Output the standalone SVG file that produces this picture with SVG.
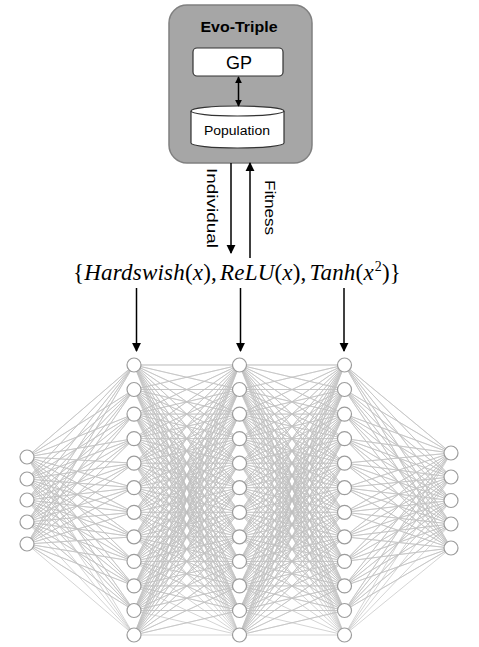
<svg xmlns="http://www.w3.org/2000/svg" width="479" height="647" viewBox="0 0 479 647">
<style>
.sans{font-family:"Liberation Sans","DejaVu Sans",sans-serif;fill:#000}
.math{font-family:"Liberation Serif","DejaVu Serif",serif;font-size:23px;fill:#000;letter-spacing:0.2px}
.i{font-style:italic}
.nn{fill:#fff;stroke:#9c9c9c;stroke-width:1.2}
.edge{fill:none;stroke:#c2c2c2;stroke-width:0.7}
.arr{stroke:#000;stroke-width:1.5;fill:none}
</style>
<defs>
<marker id="ah" viewBox="0 0 10 10" refX="9" refY="5" markerWidth="9" markerHeight="10" markerUnits="userSpaceOnUse" orient="auto-start-reverse"><path d="M0,0L10,5L0,10z" fill="#000"/></marker>
<marker id="ahs" viewBox="0 0 10 10" refX="9" refY="5" markerWidth="7" markerHeight="8" markerUnits="userSpaceOnUse" orient="auto-start-reverse"><path d="M0,0L10,5L0,10z" fill="#000"/></marker>
</defs>
<rect width="479" height="647" fill="#fff"/>

<g id="evo-triple">
<rect x="169" y="5" width="143" height="158" rx="18" fill="#a6a6a6" stroke="#808080" stroke-width="1.5"/>
<text class="sans" x="239" y="32" font-size="15" font-weight="bold" text-anchor="middle" textLength="77" lengthAdjust="spacingAndGlyphs">Evo-Triple</text>
</g>
<g id="gp">
<rect x="193" y="48" width="90" height="28" rx="4" fill="#fff" stroke="#333" stroke-width="1.2"/>
<text class="sans" x="239" y="68.5" font-size="18" text-anchor="middle">GP</text>
</g>
<g id="population">
<path d="M191 111A46.5 5 0 0 1 284 111V143A46.5 5 0 0 1 191 143Z" fill="#fff" stroke="#333" stroke-width="1.2"/>
<path d="M191 111A46.5 5 0 0 0 284 111" fill="none" stroke="#333" stroke-width="1.2"/>
<text class="sans" x="237" y="134.5" font-size="12.5" text-anchor="middle" textLength="66" lengthAdjust="spacingAndGlyphs">Population</text>
</g>

<g id="labels">
<text class="sans" font-size="15" transform="translate(207,168) rotate(90)" textLength="80" lengthAdjust="spacingAndGlyphs">Individual</text>
<text class="sans" font-size="15" transform="translate(265,180) rotate(90)" textLength="55" lengthAdjust="spacingAndGlyphs">Fitness</text>
<text class="math" x="73" y="280">{<tspan class="i">Hardswish</tspan>(<tspan class="i">x</tspan>),<tspan class="i" dx="3">ReLU</tspan>(<tspan class="i">x</tspan>),<tspan class="i" dx="3">Tanh</tspan>(<tspan class="i">x</tspan><tspan font-size="14" dy="-9" dx="1">2</tspan><tspan dy="9">)}</tspan></text>
</g>

<g id="connectors">
<line class="arr" x1="238.5" y1="77" x2="238.5" y2="106" marker-start="url(#ahs)" marker-end="url(#ahs)"/>
<line class="arr" x1="231" y1="163" x2="231" y2="253" marker-end="url(#ah)"/>
<line class="arr" x1="250" y1="258" x2="250" y2="163" marker-end="url(#ah)"/>
<line class="arr" x1="136.5" y1="288" x2="136.5" y2="351" marker-end="url(#ah)"/>
<line class="arr" x1="240.5" y1="288" x2="240.5" y2="351" marker-end="url(#ah)"/>
<line class="arr" x1="344" y1="288" x2="344" y2="351" marker-end="url(#ah)"/>

<g class="edge">
<path d="M27 457L134 365 27 457 134 389.5 27 457 134 414.1 27 457 134 438.6 27 457 134 463.2 27 457 134 487.7 27 457 134 512.3 27 457 134 536.8 27 457 134 561.4 27 457 134 585.9 27 457 134 610.5 27 457 134 635"/>
<path d="M27 479L134 365 27 479 134 389.5 27 479 134 414.1 27 479 134 438.6 27 479 134 463.2 27 479 134 487.7 27 479 134 512.3 27 479 134 536.8 27 479 134 561.4 27 479 134 585.9 27 479 134 610.5 27 479 134 635"/>
<path d="M27 500L134 365 27 500 134 389.5 27 500 134 414.1 27 500 134 438.6 27 500 134 463.2 27 500 134 487.7 27 500 134 512.3 27 500 134 536.8 27 500 134 561.4 27 500 134 585.9 27 500 134 610.5 27 500 134 635"/>
<path d="M27 522L134 365 27 522 134 389.5 27 522 134 414.1 27 522 134 438.6 27 522 134 463.2 27 522 134 487.7 27 522 134 512.3 27 522 134 536.8 27 522 134 561.4 27 522 134 585.9 27 522 134 610.5 27 522 134 635"/>
<path d="M27 544L134 365 27 544 134 389.5 27 544 134 414.1 27 544 134 438.6 27 544 134 463.2 27 544 134 487.7 27 544 134 512.3 27 544 134 536.8 27 544 134 561.4 27 544 134 585.9 27 544 134 610.5 27 544 134 635"/>

<path d="M134 365L239.5 365 134 365 239.5 389.5 134 365 239.5 414.1 134 365 239.5 438.6 134 365 239.5 463.2 134 365 239.5 487.7 134 365 239.5 512.3 134 365 239.5 536.8 134 365 239.5 561.4 134 365 239.5 585.9 134 365 239.5 610.5 134 365 239.5 635"/>
<path d="M134 389.5L239.5 365 134 389.5 239.5 389.5 134 389.5 239.5 414.1 134 389.5 239.5 438.6 134 389.5 239.5 463.2 134 389.5 239.5 487.7 134 389.5 239.5 512.3 134 389.5 239.5 536.8 134 389.5 239.5 561.4 134 389.5 239.5 585.9 134 389.5 239.5 610.5 134 389.5 239.5 635"/>
<path d="M134 414.1L239.5 365 134 414.1 239.5 389.5 134 414.1 239.5 414.1 134 414.1 239.5 438.6 134 414.1 239.5 463.2 134 414.1 239.5 487.7 134 414.1 239.5 512.3 134 414.1 239.5 536.8 134 414.1 239.5 561.4 134 414.1 239.5 585.9 134 414.1 239.5 610.5 134 414.1 239.5 635"/>
<path d="M134 438.6L239.5 365 134 438.6 239.5 389.5 134 438.6 239.5 414.1 134 438.6 239.5 438.6 134 438.6 239.5 463.2 134 438.6 239.5 487.7 134 438.6 239.5 512.3 134 438.6 239.5 536.8 134 438.6 239.5 561.4 134 438.6 239.5 585.9 134 438.6 239.5 610.5 134 438.6 239.5 635"/>
<path d="M134 463.2L239.5 365 134 463.2 239.5 389.5 134 463.2 239.5 414.1 134 463.2 239.5 438.6 134 463.2 239.5 463.2 134 463.2 239.5 487.7 134 463.2 239.5 512.3 134 463.2 239.5 536.8 134 463.2 239.5 561.4 134 463.2 239.5 585.9 134 463.2 239.5 610.5 134 463.2 239.5 635"/>
<path d="M134 487.7L239.5 365 134 487.7 239.5 389.5 134 487.7 239.5 414.1 134 487.7 239.5 438.6 134 487.7 239.5 463.2 134 487.7 239.5 487.7 134 487.7 239.5 512.3 134 487.7 239.5 536.8 134 487.7 239.5 561.4 134 487.7 239.5 585.9 134 487.7 239.5 610.5 134 487.7 239.5 635"/>
<path d="M134 512.3L239.5 365 134 512.3 239.5 389.5 134 512.3 239.5 414.1 134 512.3 239.5 438.6 134 512.3 239.5 463.2 134 512.3 239.5 487.7 134 512.3 239.5 512.3 134 512.3 239.5 536.8 134 512.3 239.5 561.4 134 512.3 239.5 585.9 134 512.3 239.5 610.5 134 512.3 239.5 635"/>
<path d="M134 536.8L239.5 365 134 536.8 239.5 389.5 134 536.8 239.5 414.1 134 536.8 239.5 438.6 134 536.8 239.5 463.2 134 536.8 239.5 487.7 134 536.8 239.5 512.3 134 536.8 239.5 536.8 134 536.8 239.5 561.4 134 536.8 239.5 585.9 134 536.8 239.5 610.5 134 536.8 239.5 635"/>
<path d="M134 561.4L239.5 365 134 561.4 239.5 389.5 134 561.4 239.5 414.1 134 561.4 239.5 438.6 134 561.4 239.5 463.2 134 561.4 239.5 487.7 134 561.4 239.5 512.3 134 561.4 239.5 536.8 134 561.4 239.5 561.4 134 561.4 239.5 585.9 134 561.4 239.5 610.5 134 561.4 239.5 635"/>
<path d="M134 585.9L239.5 365 134 585.9 239.5 389.5 134 585.9 239.5 414.1 134 585.9 239.5 438.6 134 585.9 239.5 463.2 134 585.9 239.5 487.7 134 585.9 239.5 512.3 134 585.9 239.5 536.8 134 585.9 239.5 561.4 134 585.9 239.5 585.9 134 585.9 239.5 610.5 134 585.9 239.5 635"/>
<path d="M134 610.5L239.5 365 134 610.5 239.5 389.5 134 610.5 239.5 414.1 134 610.5 239.5 438.6 134 610.5 239.5 463.2 134 610.5 239.5 487.7 134 610.5 239.5 512.3 134 610.5 239.5 536.8 134 610.5 239.5 561.4 134 610.5 239.5 585.9 134 610.5 239.5 610.5 134 610.5 239.5 635"/>
<path d="M134 635L239.5 365 134 635 239.5 389.5 134 635 239.5 414.1 134 635 239.5 438.6 134 635 239.5 463.2 134 635 239.5 487.7 134 635 239.5 512.3 134 635 239.5 536.8 134 635 239.5 561.4 134 635 239.5 585.9 134 635 239.5 610.5 134 635 239.5 635"/>

<path d="M239.5 365L344.5 365 239.5 365 344.5 389.5 239.5 365 344.5 414.1 239.5 365 344.5 438.6 239.5 365 344.5 463.2 239.5 365 344.5 487.7 239.5 365 344.5 512.3 239.5 365 344.5 536.8 239.5 365 344.5 561.4 239.5 365 344.5 585.9 239.5 365 344.5 610.5 239.5 365 344.5 635"/>
<path d="M239.5 389.5L344.5 365 239.5 389.5 344.5 389.5 239.5 389.5 344.5 414.1 239.5 389.5 344.5 438.6 239.5 389.5 344.5 463.2 239.5 389.5 344.5 487.7 239.5 389.5 344.5 512.3 239.5 389.5 344.5 536.8 239.5 389.5 344.5 561.4 239.5 389.5 344.5 585.9 239.5 389.5 344.5 610.5 239.5 389.5 344.5 635"/>
<path d="M239.5 414.1L344.5 365 239.5 414.1 344.5 389.5 239.5 414.1 344.5 414.1 239.5 414.1 344.5 438.6 239.5 414.1 344.5 463.2 239.5 414.1 344.5 487.7 239.5 414.1 344.5 512.3 239.5 414.1 344.5 536.8 239.5 414.1 344.5 561.4 239.5 414.1 344.5 585.9 239.5 414.1 344.5 610.5 239.5 414.1 344.5 635"/>
<path d="M239.5 438.6L344.5 365 239.5 438.6 344.5 389.5 239.5 438.6 344.5 414.1 239.5 438.6 344.5 438.6 239.5 438.6 344.5 463.2 239.5 438.6 344.5 487.7 239.5 438.6 344.5 512.3 239.5 438.6 344.5 536.8 239.5 438.6 344.5 561.4 239.5 438.6 344.5 585.9 239.5 438.6 344.5 610.5 239.5 438.6 344.5 635"/>
<path d="M239.5 463.2L344.5 365 239.5 463.2 344.5 389.5 239.5 463.2 344.5 414.1 239.5 463.2 344.5 438.6 239.5 463.2 344.5 463.2 239.5 463.2 344.5 487.7 239.5 463.2 344.5 512.3 239.5 463.2 344.5 536.8 239.5 463.2 344.5 561.4 239.5 463.2 344.5 585.9 239.5 463.2 344.5 610.5 239.5 463.2 344.5 635"/>
<path d="M239.5 487.7L344.5 365 239.5 487.7 344.5 389.5 239.5 487.7 344.5 414.1 239.5 487.7 344.5 438.6 239.5 487.7 344.5 463.2 239.5 487.7 344.5 487.7 239.5 487.7 344.5 512.3 239.5 487.7 344.5 536.8 239.5 487.7 344.5 561.4 239.5 487.7 344.5 585.9 239.5 487.7 344.5 610.5 239.5 487.7 344.5 635"/>
<path d="M239.5 512.3L344.5 365 239.5 512.3 344.5 389.5 239.5 512.3 344.5 414.1 239.5 512.3 344.5 438.6 239.5 512.3 344.5 463.2 239.5 512.3 344.5 487.7 239.5 512.3 344.5 512.3 239.5 512.3 344.5 536.8 239.5 512.3 344.5 561.4 239.5 512.3 344.5 585.9 239.5 512.3 344.5 610.5 239.5 512.3 344.5 635"/>
<path d="M239.5 536.8L344.5 365 239.5 536.8 344.5 389.5 239.5 536.8 344.5 414.1 239.5 536.8 344.5 438.6 239.5 536.8 344.5 463.2 239.5 536.8 344.5 487.7 239.5 536.8 344.5 512.3 239.5 536.8 344.5 536.8 239.5 536.8 344.5 561.4 239.5 536.8 344.5 585.9 239.5 536.8 344.5 610.5 239.5 536.8 344.5 635"/>
<path d="M239.5 561.4L344.5 365 239.5 561.4 344.5 389.5 239.5 561.4 344.5 414.1 239.5 561.4 344.5 438.6 239.5 561.4 344.5 463.2 239.5 561.4 344.5 487.7 239.5 561.4 344.5 512.3 239.5 561.4 344.5 536.8 239.5 561.4 344.5 561.4 239.5 561.4 344.5 585.9 239.5 561.4 344.5 610.5 239.5 561.4 344.5 635"/>
<path d="M239.5 585.9L344.5 365 239.5 585.9 344.5 389.5 239.5 585.9 344.5 414.1 239.5 585.9 344.5 438.6 239.5 585.9 344.5 463.2 239.5 585.9 344.5 487.7 239.5 585.9 344.5 512.3 239.5 585.9 344.5 536.8 239.5 585.9 344.5 561.4 239.5 585.9 344.5 585.9 239.5 585.9 344.5 610.5 239.5 585.9 344.5 635"/>
<path d="M239.5 610.5L344.5 365 239.5 610.5 344.5 389.5 239.5 610.5 344.5 414.1 239.5 610.5 344.5 438.6 239.5 610.5 344.5 463.2 239.5 610.5 344.5 487.7 239.5 610.5 344.5 512.3 239.5 610.5 344.5 536.8 239.5 610.5 344.5 561.4 239.5 610.5 344.5 585.9 239.5 610.5 344.5 610.5 239.5 610.5 344.5 635"/>
<path d="M239.5 635L344.5 365 239.5 635 344.5 389.5 239.5 635 344.5 414.1 239.5 635 344.5 438.6 239.5 635 344.5 463.2 239.5 635 344.5 487.7 239.5 635 344.5 512.3 239.5 635 344.5 536.8 239.5 635 344.5 561.4 239.5 635 344.5 585.9 239.5 635 344.5 610.5 239.5 635 344.5 635"/>

<path d="M451 453L344.5 365 451 453 344.5 389.5 451 453 344.5 414.1 451 453 344.5 438.6 451 453 344.5 463.2 451 453 344.5 487.7 451 453 344.5 512.3 451 453 344.5 536.8 451 453 344.5 561.4 451 453 344.5 585.9 451 453 344.5 610.5 451 453 344.5 635"/>
<path d="M451 477L344.5 365 451 477 344.5 389.5 451 477 344.5 414.1 451 477 344.5 438.6 451 477 344.5 463.2 451 477 344.5 487.7 451 477 344.5 512.3 451 477 344.5 536.8 451 477 344.5 561.4 451 477 344.5 585.9 451 477 344.5 610.5 451 477 344.5 635"/>
<path d="M451 500.5L344.5 365 451 500.5 344.5 389.5 451 500.5 344.5 414.1 451 500.5 344.5 438.6 451 500.5 344.5 463.2 451 500.5 344.5 487.7 451 500.5 344.5 512.3 451 500.5 344.5 536.8 451 500.5 344.5 561.4 451 500.5 344.5 585.9 451 500.5 344.5 610.5 451 500.5 344.5 635"/>
<path d="M451 524L344.5 365 451 524 344.5 389.5 451 524 344.5 414.1 451 524 344.5 438.6 451 524 344.5 463.2 451 524 344.5 487.7 451 524 344.5 512.3 451 524 344.5 536.8 451 524 344.5 561.4 451 524 344.5 585.9 451 524 344.5 610.5 451 524 344.5 635"/>
<path d="M451 548L344.5 365 451 548 344.5 389.5 451 548 344.5 414.1 451 548 344.5 438.6 451 548 344.5 463.2 451 548 344.5 487.7 451 548 344.5 512.3 451 548 344.5 536.8 451 548 344.5 561.4 451 548 344.5 585.9 451 548 344.5 610.5 451 548 344.5 635"/>
</g>
</g>

<g id="input-layer">
<g id="in1"><circle class="nn" cx="27" cy="457" r="7"/></g>
<g id="in2"><circle class="nn" cx="27" cy="479" r="7"/></g>
<g id="in3"><circle class="nn" cx="27" cy="500" r="7"/></g>
<g id="in4"><circle class="nn" cx="27" cy="522" r="7"/></g>
<g id="in5"><circle class="nn" cx="27" cy="544" r="7"/></g>
</g>
<g id="hidden-layer-1">
<g id="h1n1"><circle class="nn" cx="134" cy="365" r="7"/></g>
<g id="h1n2"><circle class="nn" cx="134" cy="389.5" r="7"/></g>
<g id="h1n3"><circle class="nn" cx="134" cy="414.1" r="7"/></g>
<g id="h1n4"><circle class="nn" cx="134" cy="438.6" r="7"/></g>
<g id="h1n5"><circle class="nn" cx="134" cy="463.2" r="7"/></g>
<g id="h1n6"><circle class="nn" cx="134" cy="487.7" r="7"/></g>
<g id="h1n7"><circle class="nn" cx="134" cy="512.3" r="7"/></g>
<g id="h1n8"><circle class="nn" cx="134" cy="536.8" r="7"/></g>
<g id="h1n9"><circle class="nn" cx="134" cy="561.4" r="7"/></g>
<g id="h1n10"><circle class="nn" cx="134" cy="585.9" r="7"/></g>
<g id="h1n11"><circle class="nn" cx="134" cy="610.5" r="7"/></g>
<g id="h1n12"><circle class="nn" cx="134" cy="635" r="7"/></g>
</g>
<g id="hidden-layer-2">
<g id="h2n1"><circle class="nn" cx="239.5" cy="365" r="7"/></g>
<g id="h2n2"><circle class="nn" cx="239.5" cy="389.5" r="7"/></g>
<g id="h2n3"><circle class="nn" cx="239.5" cy="414.1" r="7"/></g>
<g id="h2n4"><circle class="nn" cx="239.5" cy="438.6" r="7"/></g>
<g id="h2n5"><circle class="nn" cx="239.5" cy="463.2" r="7"/></g>
<g id="h2n6"><circle class="nn" cx="239.5" cy="487.7" r="7"/></g>
<g id="h2n7"><circle class="nn" cx="239.5" cy="512.3" r="7"/></g>
<g id="h2n8"><circle class="nn" cx="239.5" cy="536.8" r="7"/></g>
<g id="h2n9"><circle class="nn" cx="239.5" cy="561.4" r="7"/></g>
<g id="h2n10"><circle class="nn" cx="239.5" cy="585.9" r="7"/></g>
<g id="h2n11"><circle class="nn" cx="239.5" cy="610.5" r="7"/></g>
<g id="h2n12"><circle class="nn" cx="239.5" cy="635" r="7"/></g>
</g>
<g id="hidden-layer-3">
<g id="h3n1"><circle class="nn" cx="344.5" cy="365" r="7"/></g>
<g id="h3n2"><circle class="nn" cx="344.5" cy="389.5" r="7"/></g>
<g id="h3n3"><circle class="nn" cx="344.5" cy="414.1" r="7"/></g>
<g id="h3n4"><circle class="nn" cx="344.5" cy="438.6" r="7"/></g>
<g id="h3n5"><circle class="nn" cx="344.5" cy="463.2" r="7"/></g>
<g id="h3n6"><circle class="nn" cx="344.5" cy="487.7" r="7"/></g>
<g id="h3n7"><circle class="nn" cx="344.5" cy="512.3" r="7"/></g>
<g id="h3n8"><circle class="nn" cx="344.5" cy="536.8" r="7"/></g>
<g id="h3n9"><circle class="nn" cx="344.5" cy="561.4" r="7"/></g>
<g id="h3n10"><circle class="nn" cx="344.5" cy="585.9" r="7"/></g>
<g id="h3n11"><circle class="nn" cx="344.5" cy="610.5" r="7"/></g>
<g id="h3n12"><circle class="nn" cx="344.5" cy="635" r="7"/></g>
</g>
<g id="output-layer">
<g id="out1"><circle class="nn" cx="451" cy="453" r="7"/></g>
<g id="out2"><circle class="nn" cx="451" cy="477" r="7"/></g>
<g id="out3"><circle class="nn" cx="451" cy="500.5" r="7"/></g>
<g id="out4"><circle class="nn" cx="451" cy="524" r="7"/></g>
<g id="out5"><circle class="nn" cx="451" cy="548" r="7"/></g>
</g>
</svg>
